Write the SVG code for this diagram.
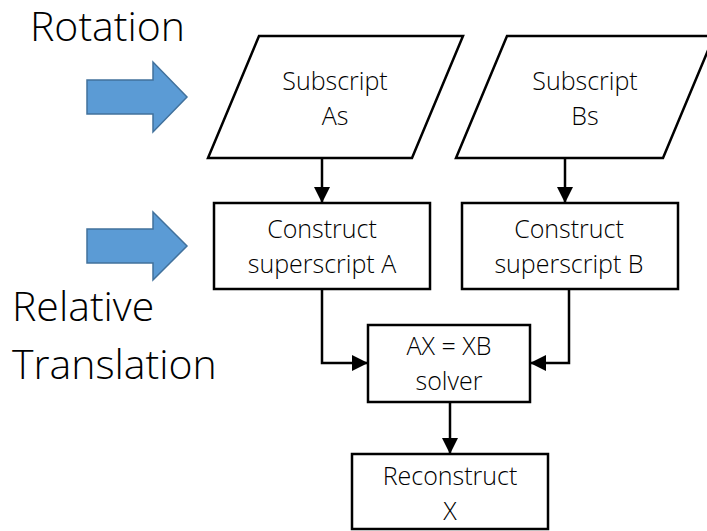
<svg xmlns="http://www.w3.org/2000/svg" width="707" height="531" viewBox="0 0 707 531">
  <style>
    .shape { fill: #ffffff; stroke: #000000; stroke-width: 2.5; }
    .lbl { font-family: "Open Sans", "Liberation Sans", sans-serif; font-weight: 300; font-size: 25px; fill: #000000; text-anchor: middle; }
    .big { font-family: "Open Sans", "Liberation Sans", sans-serif; font-weight: 300; font-size: 41px; fill: #000000; }
    .wire { fill: none; stroke: #000000; stroke-width: 2.5; }
    .blue { fill: #5B9BD5; stroke: #41719C; stroke-width: 1.5; }
  </style>
  <defs>
    <marker id="head" viewBox="0 0 10 10" refX="10" refY="5" markerWidth="6.4" markerHeight="6.4" markerUnits="strokeWidth" orient="auto">
      <path d="M0,0 L10,5 L0,10 Z" fill="#000000"/>
    </marker>
  </defs>

  <rect width="707" height="531" fill="#ffffff"/>

  <!-- side labels -->
  <text class="big" x="30" y="41">Rotation</text>
  <text class="big" x="12" y="321">Relative</text>
  <text class="big" x="12" y="379">Translation</text>

  <!-- block arrows -->
  <path class="blue" d="M87,80 L153,80 L153,62 L187,97 L153,132 L153,114 L87,114 Z"/>
  <path class="blue" d="M87,229 L153,229 L153,212 L187,246 L153,280 L153,263 L87,263 Z"/>

  <g id="subscriptA">
    <polygon class="shape" points="259,36 463,36 412,158 208,158"/>
    <text class="lbl" x="335" y="90">Subscript</text>
    <text class="lbl" x="335" y="125">As</text>
  </g>

  <g id="subscriptB">
    <polygon class="shape" points="507,36 714,36 663,158 456,158"/>
    <text class="lbl" x="585" y="90">Subscript</text>
    <text class="lbl" x="585" y="125">Bs</text>
  </g>

  <g id="constructA">
    <rect class="shape" x="214" y="203" width="216" height="86"/>
    <text class="lbl" x="322" y="238">Construct</text>
    <text class="lbl" x="322" y="273">superscript A</text>
  </g>

  <g id="constructB">
    <rect class="shape" x="462" y="203" width="216" height="86"/>
    <text class="lbl" x="569" y="238">Construct</text>
    <text class="lbl" x="569" y="273">superscript B</text>
  </g>

  <g id="solver">
    <rect class="shape" x="368" y="325" width="162" height="77"/>
    <text class="lbl" x="449" y="355">AX = XB</text>
    <text class="lbl" x="449" y="390">solver</text>
  </g>

  <g id="reconstruct">
    <rect class="shape" x="352" y="454" width="196" height="75"/>
    <text class="lbl" x="450" y="485">Reconstruct</text>
    <text class="lbl" x="450" y="520">X</text>
  </g>

  <g id="connectors">
    <path class="wire" d="M322,158 L322,203" marker-end="url(#head)"/>
    <path class="wire" d="M565,158 L565,203" marker-end="url(#head)"/>
    <path class="wire" d="M322,289 L322,363 L368,363" marker-end="url(#head)"/>
    <path class="wire" d="M569,289 L569,363 L530,363" marker-end="url(#head)"/>
    <path class="wire" d="M450,402 L450,454" marker-end="url(#head)"/>
  </g>
</svg>
